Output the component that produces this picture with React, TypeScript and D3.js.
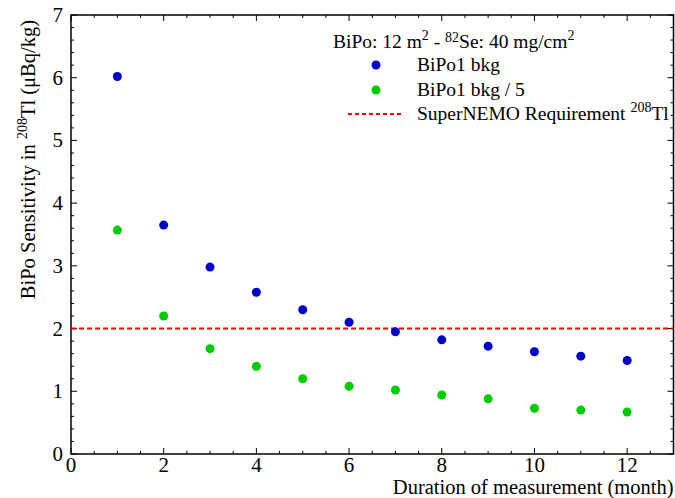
import React from "react";
import * as d3 from "d3";

const months = [1, 2, 3, 4, 5, 6, 7, 8, 9, 10, 11, 12];
const bkg = [6.02, 3.65, 2.98, 2.58, 2.3, 2.1, 1.95, 1.82, 1.72, 1.63, 1.56, 1.49];
const bkg5 = [3.57, 2.2, 1.68, 1.4, 1.2, 1.08, 1.02, 0.94, 0.88, 0.73, 0.7, 0.67];
const requirement = 2;
const xTicks = [0, 2, 4, 6, 8, 10, 12];
const yTicks = [0, 1, 2, 3, 4, 5, 6, 7];

const W = 675, H = 498;
const L = 71, R = 673.5, T = 15, B = 454;
const FONT = "Liberation Serif";

export default function App() {
  const x = d3.scaleLinear().domain([0, 13]).range([L, R]);
  const y = d3.scaleLinear().domain([0, 7]).range([B, T]);
  const xMinor = d3.range(0, 13.001, 0.5);
  const yMinor = d3.range(0, 7.001, 0.2);
  const blue = "#0000cc";
  const green = "#00cc00";
  const ts = { fontFamily: FONT };
  return (
    <svg width={W} height={H} style={{ position: "absolute", left: 0, top: 0, background: "#fff", fontFamily: FONT }}>
      <rect x={0} y={0} width={W} height={H} fill="#fff" />
      <g stroke="#000" strokeWidth={1}>
        {xMinor.map((v, i) => {
          const major = Math.abs(v / 2 - Math.round(v / 2)) < 1e-6;
          const len = major ? 6 : 3;
          return (
            <g key={"xm" + i}>
              <line x1={x(v)} x2={x(v)} y1={B} y2={B - len} />
              <line x1={x(v)} x2={x(v)} y1={T} y2={T + len} />
            </g>
          );
        })}
        {yMinor.map((v, i) => {
          const major = Math.abs(v - Math.round(v)) < 1e-6;
          const len = major ? 6 : 3;
          return (
            <g key={"ym" + i}>
              <line x1={L} x2={L + len} y1={y(v)} y2={y(v)} />
              <line x1={R} x2={R - len} y1={y(v)} y2={y(v)} />
            </g>
          );
        })}
      </g>
      <rect x={L} y={T} width={R - L} height={B - T} fill="none" stroke="#000" strokeWidth={1.5} />
      <g fontSize={21} fill="#000" style={ts}>
        {xTicks.map((v) => (
          <text key={"xl" + v} x={x(v)} y={B + 18} textAnchor="middle" style={ts}>{v}</text>
        ))}
        {yTicks.map((v) => (
          <text key={"yl" + v} x={L - 8} y={y(v) + 7} textAnchor="end" style={ts}>{v}</text>
        ))}
      </g>
      <text x={R} y={494} textAnchor="end" fontSize={20.5} style={ts}>Duration of measurement (month)</text>
      <text transform={`translate(35,${T + 5}) rotate(-90)`} textAnchor="end" fontSize={20.5} style={ts}>
        BiPo Sensitivity in <tspan dy={-8} fontSize={14}>208</tspan><tspan dy={8}>Tl (μBq/kg)</tspan>
      </text>
      <line x1={x(0)} x2={x(13)} y1={y(requirement)} y2={y(requirement)} stroke="#ff0000"
        strokeWidth={2} strokeDasharray="5,3" />
      {months.map((m, i) => (
        <circle key={"b" + i} cx={x(m)} cy={y(bkg[i])} r={4.5} fill={blue} />
      ))}
      {months.map((m, i) => (
        <circle key={"g" + i} cx={x(m)} cy={y(bkg5[i])} r={4.5} fill={green} />
      ))}
      <g fontSize={19.5} fill="#000" style={ts}>
        <text x={333} y={48} style={ts}>
          BiPo: 12 m<tspan dy={-8} fontSize={14}>2</tspan><tspan dy={8}> - </tspan>
          <tspan dy={-6} fontSize={14}>82</tspan><tspan dy={6}>Se: 40 mg/cm</tspan>
          <tspan dy={-8} fontSize={14}>2</tspan>
        </text>
        <circle cx={376} cy={65} r={4.5} fill={blue} />
        <text x={417} y={71} style={ts}>BiPo1 bkg</text>
        <circle cx={376} cy={90} r={4.5} fill={green} />
        <text x={417} y={96} style={ts}>BiPo1 bkg / 5</text>
        <line x1={348} x2={402} y1={114} y2={114} stroke="#ff0000" strokeWidth={2} strokeDasharray="4,3" />
        <text x={417} y={120} style={ts}>
          SuperNEMO Requirement <tspan dy={-8} fontSize={14}>208</tspan><tspan dy={8}>Tl</tspan>
        </text>
      </g>
    </svg>
  );
}
